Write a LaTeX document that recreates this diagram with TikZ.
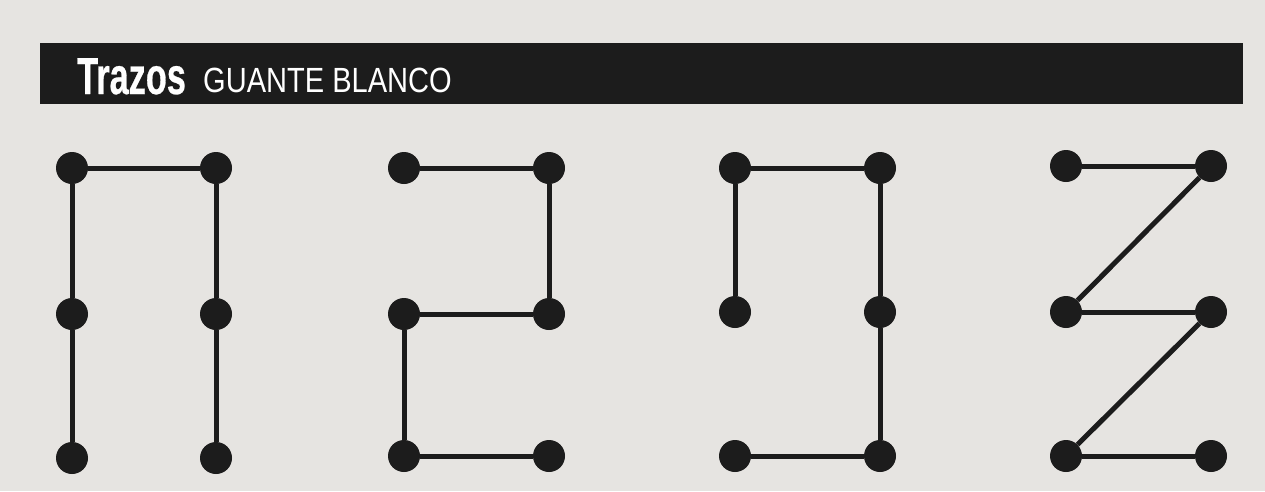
\documentclass[tikz,border=0pt]{standalone}
\usepackage{fontspec}
\setmainfont{Liberation Sans}
\newfontfamily\trazosfont[FakeStretch=0.66,FakeBold=0.5]{Liberation Sans Bold}
\newfontfamily\guantefont[FakeStretch=0.83]{Liberation Sans}
\definecolor{paper}{HTML}{E6E4E1}
\definecolor{ink}{HTML}{1C1C1C}
\begin{document}
\begin{tikzpicture}[x=1pt,y=-1pt,
  dot/.style={circle,fill=ink,draw=none,minimum size=32pt,inner sep=0pt},
  seg/.style={draw=ink,line width=5pt}]
\fill[paper] (0,0) rectangle (1265,491);
\useasboundingbox (0,0) rectangle (1265,491);
\fill[ink] (40,43) rectangle (1243,104);
\node[anchor=base west,inner sep=0pt,text=white,font=\trazosfont\fontsize{52}{52}\selectfont] (t1) at (77,94) {Trazos};
\node[anchor=base west,inner sep=0pt,text=white,font=\guantefont\fontsize{35}{35}\selectfont] (t2) at (203,92) {GUANTE BLANCO};
% figure 1
\node[dot] (a1) at (72,168) {};
\node[dot] (a2) at (216,168) {};
\node[dot] (a3) at (72,314) {};
\node[dot] (a4) at (216,314) {};
\node[dot] (a5) at (72,458) {};
\node[dot] (a6) at (216,458) {};
% figure 2
\node[dot] (b1) at (404,168) {};
\node[dot] (b2) at (549,168) {};
\node[dot] (b3) at (404,314) {};
\node[dot] (b4) at (549,314) {};
\node[dot] (b5) at (404,456) {};
\node[dot] (b6) at (549,456) {};
% figure 3
\node[dot] (c1) at (735,168) {};
\node[dot] (c2) at (880,168) {};
\node[dot] (c3) at (735,312) {};
\node[dot] (c4) at (880,312) {};
\node[dot] (c5) at (735,456) {};
\node[dot] (c6) at (880,456) {};
% figure 4
\node[dot] (d1) at (1066,166) {};
\node[dot] (d2) at (1211,166) {};
\node[dot] (d3) at (1066,312) {};
\node[dot] (d4) at (1211,312) {};
\node[dot] (d5) at (1066,456) {};
\node[dot] (d6) at (1211,456) {};
\begin{scope}[on background layer/.style={}]
\draw[seg] (a1) -- (a2);
\draw[seg] (a1) -- (a3);
\draw[seg] (a3) -- (a5);
\draw[seg] (a2) -- (a4);
\draw[seg] (a4) -- (a6);
\draw[seg] (b1) -- (b2);
\draw[seg] (b2) -- (b4);
\draw[seg] (b4) -- (b3);
\draw[seg] (b3) -- (b5);
\draw[seg] (b5) -- (b6);
\draw[seg] (c1) -- (c2);
\draw[seg] (c1) -- (c3);
\draw[seg] (c2) -- (c4);
\draw[seg] (c4) -- (c6);
\draw[seg] (c5) -- (c6);
\draw[seg] (d1) -- (d2);
\draw[seg] (d2) -- (d3);
\draw[seg] (d3) -- (d4);
\draw[seg] (d4) -- (d5);
\draw[seg] (d5) -- (d6);
\end{scope}
\end{tikzpicture}
\end{document}
